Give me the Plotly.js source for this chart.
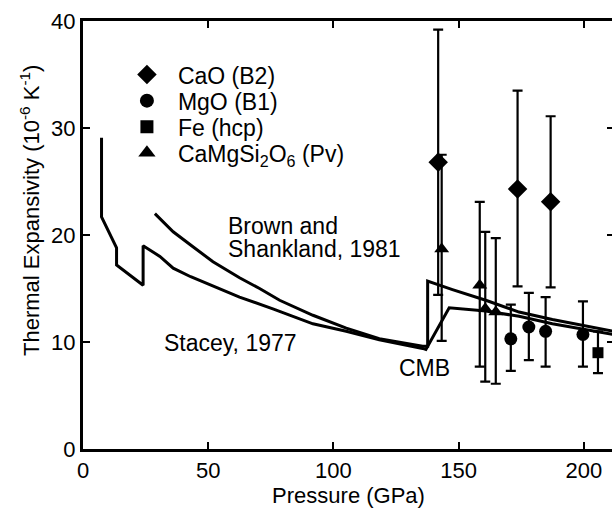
<!DOCTYPE html>
<html>
<head>
<meta charset="utf-8">
<script src="https://cdn.plot.ly/plotly-3.0.1.min.js"></script>
<style>
html, body { margin: 0; padding: 0; overflow: hidden; background: #fff; }
#chart { width: 640px; height: 509px; }
</style>
</head>
<body>
<div id="chart"></div>
<script>
// Stacey (1977) curve
const staceyP = [7.4, 7.4, 13.4, 13.4, 24.0, 24.0, 30.7, 36.0, 43.0, 49.3, 62.5, 75.8, 82.5, 91.8, 105.1, 118.3, 135.6, 136.9, 146.2, 160.8, 174.1, 187.4, 212.0];
const staceyA = [29.1, 21.7, 18.8, 17.2, 15.3, 19.0, 18.0, 16.9, 16.1, 15.5, 14.2, 13.1, 12.5, 11.7, 11.0, 10.2, 9.4, 9.3, 13.2, 12.9, 12.4, 11.7, 10.7];
// Brown and Shankland (1981) curve
const brownP = [28.7, 36.0, 43.9, 51.9, 62.5, 70.5, 78.5, 91.8, 105.1, 118.3, 135.6, 137.6, 137.6, 147.5, 160.8, 174.1, 187.4, 212.0];
const brownA = [22.0, 20.3, 18.9, 17.5, 16.0, 15.0, 13.9, 12.5, 11.3, 10.3, 9.6, 9.6, 15.7, 14.9, 13.9, 12.8, 12.1, 11.0];

// CaO (B2)
const caoP = [141.8, 173.5, 186.7];
const caoA = [26.8, 24.3, 23.1];
const caoErrUp = [12.4, 9.2, 8.0];
const caoErrDn = [12.4, 9.1, 8.0];
// MgO (B1)
const mgoP = [170.8, 178.0, 184.7, 199.6];
const mgoA = [10.3, 11.4, 11.0, 10.7];
const mgoErrUp = [3.2, 3.2, 3.2, 3.1];
const mgoErrDn = [3.0, 3.1, 3.3, 3.0];
// Fe (hcp)
const feP = [205.6];
const feA = [9.0];
const feErrUp = [2.0];
const feErrDn = [1.9];
// CaMgSi2O6 (Pv)
const pvP = [143.2, 158.4, 160.6, 164.8];
const pvA = [18.7, 15.3, 13.1, 12.8];
const pvErrUp = [8.8, 7.8, 7.2, 6.9];
const pvErrDn = [8.6, 7.6, 6.8, 6.7];

const seriesNames = ['CaO (B2)', 'MgO (B1)', 'Fe (hcp)', 'CaMgSi<sub>2</sub>O<sub>6</sub> (Pv)'];
const xTicks = [0, 50, 100, 150, 200];
const yTicks = [0, 10, 20, 30, 40];

const FONT = 'Liberation Sans, Arial, Helvetica, sans-serif';
const black = '#000';

function errBar(up, dn) {
  return {type: 'data', symmetric: false, array: up, arrayminus: dn,
          color: black, thickness: 2.2, width: 5};
}
function pts(name, x, y, up, dn, symbol, size) {
  return {x: x, y: y, type: 'scatter', mode: 'markers', name: name, showlegend: false,
          marker: {symbol: symbol, size: size, color: black},
          error_y: errBar(up, dn), cliponaxis: false};
}
function leg(name, symbol, size, legendId) {
  return {x: [null], y: [null], type: 'scatter', mode: 'markers', name: name,
          legend: legendId, marker: {symbol: symbol, size: size, color: black}};
}

const traces = [
  {x: staceyP, y: staceyA, type: 'scatter', mode: 'lines', showlegend: false,
   line: {color: black, width: 3}},
  {x: brownP, y: brownA, type: 'scatter', mode: 'lines', showlegend: false,
   line: {color: black, width: 3}},
  pts(seriesNames[0], caoP, caoA, caoErrUp, caoErrDn, 'diamond', 15),
  pts(seriesNames[1], mgoP, mgoA, mgoErrUp, mgoErrDn, 'circle', 13),
  pts(seriesNames[2], feP, feA, feErrUp, feErrDn, 'square', 11),
  pts(seriesNames[3], pvP, pvA, pvErrUp, pvErrDn, 'triangle-up', 13),
  leg(seriesNames[0], 'diamond', 15, 'legend'),
  leg(seriesNames[1], 'circle', 14, 'legend2'),
  leg(seriesNames[2], 'square', 13, 'legend3'),
  leg(seriesNames[3], 'triangle-up', 15, 'legend4')
];

const axisCommon = {
  showgrid: false, zeroline: false, showline: true, linecolor: black, linewidth: 3,
  mirror: 'ticks', ticks: 'inside', ticklen: 7, tickwidth: 2, tickcolor: black,
  tickfont: {family: FONT, size: 22, color: black}
};

function legendBox(y) {
  return {x: 0.062, y: y, xanchor: 'left', yanchor: 'top', bgcolor: 'rgba(0,0,0,0)',
          itemwidth: 52, font: {family: FONT, size: 23, color: black}};
}

const layout = {
  width: 640, height: 509,
  margin: {l: 83, r: 26, t: 21, b: 60},
  paper_bgcolor: '#fff', plot_bgcolor: '#fff',
  font: {family: FONT, size: 22, color: black},
  xaxis: Object.assign({}, axisCommon, {
    range: [0, 212], tickvals: xTicks, ticktext: xTicks.map(String),
    title: {text: 'Pressure (GPa)', font: {family: FONT, size: 22, color: black}, standoff: 6}
  }),
  yaxis: Object.assign({}, axisCommon, {
    range: [0, 40], tickvals: yTicks, ticktext: yTicks.map(String)
  }),
  showlegend: true,
  legend: legendBox(0.925),
  legend2: legendBox(0.864),
  legend3: legendBox(0.803),
  legend4: legendBox(0.742),
  annotations: [
    {x: 0, y: 0.556, xref: 'paper', yref: 'paper', xshift: -53, textangle: -90,
     text: 'Thermal Expansivity (10<sup>-6</sup> K<sup>-1</sup>)', showarrow: false,
     xanchor: 'center', yanchor: 'middle', font: {family: FONT, size: 22, color: black}},
    {x: 57.2, y: 20.85, xref: 'x', yref: 'y', text: 'Brown and', showarrow: false,
     xanchor: 'left', yanchor: 'middle', font: {family: FONT, size: 23, color: black}},
    {x: 57.2, y: 18.65, xref: 'x', yref: 'y', text: 'Shankland, 1981', showarrow: false,
     xanchor: 'left', yanchor: 'middle', font: {family: FONT, size: 23, color: black}},
    {x: 31.5, y: 9.9, xref: 'x', yref: 'y', text: 'Stacey, 1977', showarrow: false,
     xanchor: 'left', yanchor: 'middle', font: {family: FONT, size: 23, color: black}},
    {x: 136.3, y: 7.6, xref: 'x', yref: 'y', text: 'CMB', showarrow: false,
     xanchor: 'center', yanchor: 'middle', font: {family: FONT, size: 23, color: black}}
  ]
};

Plotly.newPlot('chart', traces, layout, {displayModeBar: false, staticPlot: true});
</script>
</body>
</html>
